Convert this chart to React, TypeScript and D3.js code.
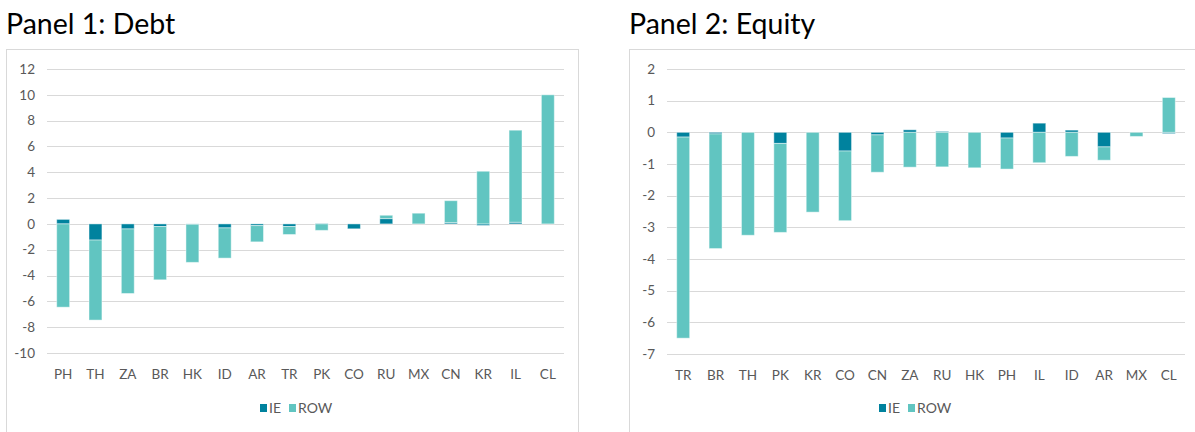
import React, { useRef, useEffect } from 'react'
import * as d3 from 'd3'

const debtCountries = ['PH', 'TH', 'ZA', 'BR', 'HK', 'ID', 'AR', 'TR', 'PK', 'CO', 'RU', 'MX', 'CN', 'KR', 'IL', 'CL']
const debtIE = [0.35, -1.25, -0.39, -0.2, -0.03, -0.31, -0.13, -0.2, 0.03, -0.38, 0.41, 0, 0.1, -0.12, 0.13, 0]
const debtROW = [-6.45, -6.2, -5.0, -4.13, -2.95, -2.34, -1.26, -0.62, -0.5, 0, 0.26, 0.83, 1.7, 4.08, 7.13, 10.0]
const debtTicks = [-10, -8, -6, -4, -2, 0, 2, 4, 6, 8, 10, 12]

const equityCountries = ['TR', 'BR', 'TH', 'PK', 'KR', 'CO', 'CN', 'ZA', 'RU', 'HK', 'PH', 'IL', 'ID', 'AR', 'MX', 'CL']
const equityIE = [-0.15, -0.05, 0, -0.35, 0, -0.59, -0.08, 0.08, 0.03, 0, -0.18, 0.29, 0.07, -0.46, 0, -0.04]
const equityROW = [-6.35, -3.62, -3.25, -2.81, -2.52, -2.2, -1.18, -1.1, -1.09, -1.12, -0.98, -0.96, -0.76, -0.42, -0.13, 1.1]
const equityTicks = [-7, -6, -5, -4, -3, -2, -1, 0, 1, 2]

const seriesNames = ['IE', 'ROW']
const colors = { IE: '#00829e', ROW: '#61c5c1' }

const FONT = 'Lato, "Open Sans", sans-serif'

function drawPanel(svg, opts) {
    const { title, titleX, box, plot, countries, ie, row, ticks, legendX } = opts
    const g = svg.append('g')

    g.append('text')
        .attr('x', titleX).attr('y', 34)
        .attr('font-family', FONT).attr('font-size', 28.5)
        .attr('fill', '#000')
        .text(title)

    g.append('rect')
        .attr('x', box.x + 0.5).attr('y', box.y + 0.5)
        .attr('width', box.w).attr('height', box.h)
        .attr('fill', '#fff').attr('stroke', '#d9d9d9')

    const x = d3.scaleBand()
        .domain(countries)
        .range([plot.left, plot.right])
        .paddingInner(0.6).paddingOuter(0.3)

    const y = d3.scaleLinear()
        .domain([ticks[0], ticks[ticks.length - 1]])
        .range([plot.bottom, plot.top])

    // gridlines
    g.append('g').selectAll('line')
        .data(ticks)
        .enter().append('line')
        .attr('x1', plot.left).attr('x2', plot.right)
        .attr('y1', d => Math.round(y(d)) + 0.5).attr('y2', d => Math.round(y(d)) + 0.5)
        .attr('stroke', '#d9d9d9').attr('stroke-width', 1)

    g.append('g').selectAll('text')
        .data(ticks)
        .enter().append('text')
        .attr('x', plot.left - 12).attr('y', d => y(d))
        .attr('dy', '0.35em').attr('text-anchor', 'end')
        .attr('font-family', FONT).attr('font-size', 13.5).attr('fill', '#595959')
        .text(d => d)

    const table = countries.map((c, i) => ({ country: c, IE: ie[i], ROW: row[i] }))
    const stacked = d3.stack().keys(seriesNames).offset(d3.stackOffsetDiverging)(table)

    stacked.forEach(layer => {
        g.append('g').selectAll('rect')
            .data(layer)
            .enter().append('rect')
            .attr('x', d => x(d.data.country))
            .attr('width', x.bandwidth())
            .attr('y', d => y(Math.max(d[0], d[1])))
            .attr('height', d => Math.abs(y(d[0]) - y(d[1])))
            .attr('fill', colors[layer.key])
            .attr('stroke', '#ffffff').attr('stroke-opacity', 0.45).attr('stroke-width', 1)
    })

    g.append('g').selectAll('text')
        .data(countries)
        .enter().append('text')
        .attr('x', d => x(d) + x.bandwidth() / 2)
        .attr('y', plot.bottom + 26)
        .attr('text-anchor', 'middle')
        .attr('font-family', FONT).attr('font-size', 13.5).attr('fill', '#595959')
        .text(d => d)

    // legend
    const lg = g.append('g').attr('transform', `translate(${legendX},408)`)
    lg.append('rect').attr('x', 0).attr('y', -4).attr('width', 7).attr('height', 8).attr('fill', colors.IE)
    lg.append('text').attr('x', 9).attr('y', 0).attr('dy', '0.35em')
        .attr('font-family', FONT).attr('font-size', 14).attr('fill', '#595959').text('IE')
    lg.append('rect').attr('x', 29).attr('y', -4).attr('width', 7).attr('height', 8).attr('fill', colors.ROW)
    lg.append('text').attr('x', 38).attr('y', 0).attr('dy', '0.35em')
        .attr('font-family', FONT).attr('font-size', 14).attr('fill', '#595959').text('ROW')
}

function App() {
    const svgRef = useRef()

    useEffect(() => {
        document.body.style.margin = '0'
        const svg = d3.select(svgRef.current)
        svg.selectAll('*').remove()

        drawPanel(svg, {
            title: 'Panel 1: Debt', titleX: 6,
            box: { x: 6, y: 49, w: 572, h: 400 },
            plot: { left: 47, right: 564, top: 69, bottom: 353 },
            countries: debtCountries, ie: debtIE, row: debtROW, ticks: debtTicks,
            legendX: 260
        })

        drawPanel(svg, {
            title: 'Panel 2: Equity', titleX: 629,
            box: { x: 629, y: 49, w: 580, h: 400 },
            plot: { left: 667, right: 1185, top: 69, bottom: 354 },
            countries: equityCountries, ie: equityIE, row: equityROW, ticks: equityTicks,
            legendX: 879
        })
    }, [])

    return (
        <svg ref={svgRef} width="1195" height="432" style={{ display: 'block', background: '#fff' }}></svg>
    )
}

export default App
